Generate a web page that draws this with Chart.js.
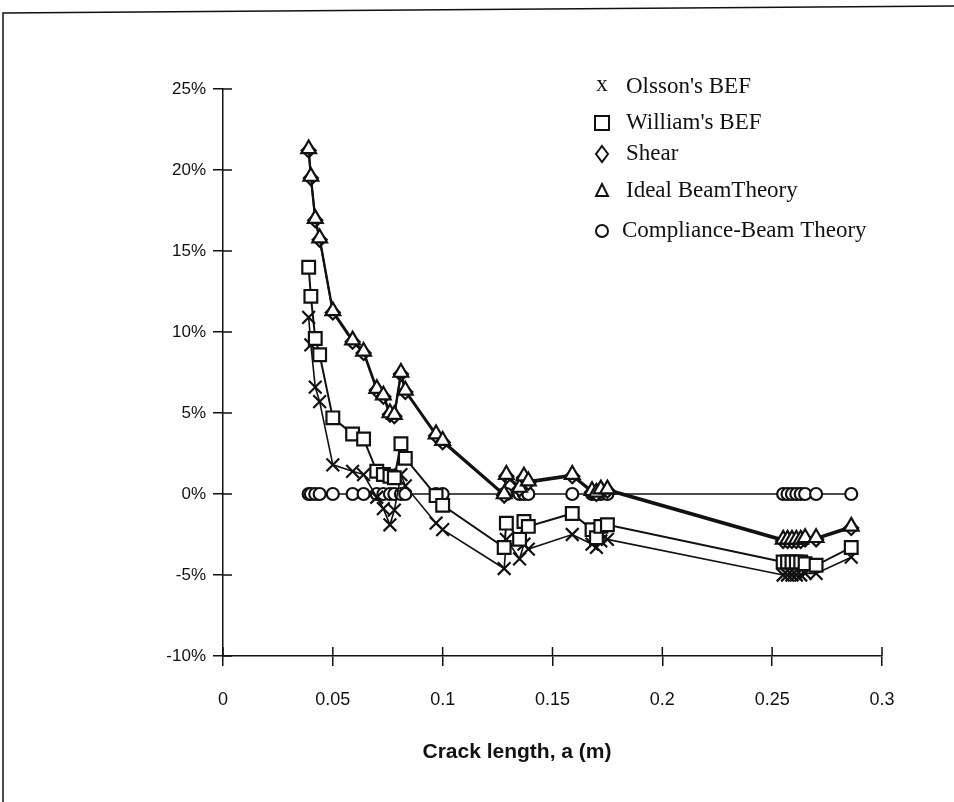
<!DOCTYPE html>
<html>
<head>
<meta charset="utf-8">
<script src="https://cdn.jsdelivr.net/npm/chart.js@4.4.0/dist/chart.umd.min.js"></script>
<style>
    html, body { margin: 0; padding: 0; background: #fff; }
    #wrap { position: relative; width: 954px; height: 802px; }
</style>
</head>
<body>
<div id="wrap"><canvas id="crackChart" width="954" height="802"></canvas></div>
<script>
// Data (crack length in m, error in %)
const crackLength = [0.039, 0.040, 0.042, 0.044, 0.050, 0.059, 0.064, 0.070, 0.073, 0.076, 0.078,
    0.081, 0.083, 0.097, 0.100, 0.128, 0.129, 0.135, 0.137, 0.139, 0.159, 0.168, 0.170, 0.172, 0.175,
    0.255, 0.257, 0.259, 0.261, 0.263, 0.265, 0.270, 0.286];

const olssonBEF = [10.9, 9.2, 6.6, 5.7, 1.8, 1.4, 1.2, -0.2, -0.9, -1.9, -1.0,
    1.2, 0.5, -1.8, -2.2, -4.6, -2.8, -4.0, -3.1, -3.4, -2.5, -3.1, -3.3, -2.9, -2.8,
    -5.0, -5.0, -5.0, -5.0, -5.0, -4.9, -4.9, -3.9];

const williamsBEF = [14.0, 12.2, 9.6, 8.6, 4.7, 3.7, 3.4, 1.4, 1.2, 1.1, 1.0,
    3.1, 2.2, -0.1, -0.7, -3.3, -1.8, -2.8, -1.7, -2.0, -1.2, -2.2, -2.7, -2.0, -1.9,
    -4.2, -4.2, -4.2, -4.2, -4.2, -4.3, -4.4, -3.3];

const shear = [21.2, 19.5, 16.9, 15.7, 11.2, 9.4, 8.7, 6.4, 6.0, 4.9, 4.8,
    7.4, 6.3, 3.6, 3.2, -0.1, 1.1, 0.3, 1.0, 0.7, 1.1, 0.1, 0.0, 0.2, 0.2,
    -2.9, -2.9, -2.9, -2.9, -2.9, -2.8, -2.8, -2.1];

const idealBeam = [21.3, 19.6, 17.0, 15.8, 11.3, 9.5, 8.8, 6.5, 6.1, 5.0, 4.9,
    7.5, 6.4, 3.7, 3.3, 0.0, 1.2, 0.4, 1.1, 0.8, 1.2, 0.2, 0.1, 0.3, 0.3,
    -2.8, -2.8, -2.8, -2.8, -2.8, -2.7, -2.7, -2.0];

const complianceBeam = [0, 0, 0, 0, 0, 0, 0, 0, 0, 0, 0,
    0, 0, 0, 0, 0, 0, 0, 0, 0, 0, 0, 0, 0, 0,
    0, 0, 0, 0, 0, 0, 0, 0];

const seriesNames = ["Olsson's BEF", "William's BEF", 'Shear', 'Ideal BeamTheory', 'Compliance-Beam Theory'];
const xAxisTitle = 'Crack length, a (m)';

const xTickValues = [0, 0.05, 0.1, 0.15, 0.2, 0.25, 0.3];
const xTickLabels = ['0', '0.05', '0.1', '0.15', '0.2', '0.25', '0.3'];
const yTickValues = [-10, -5, 0, 5, 10, 15, 20, 25];
const yTickLabels = ['-10%', '-5%', '0%', '5%', '10%', '15%', '20%', '25%'];

const ink = '#111';
const sansFont = '"Liberation Sans", Arial, sans-serif';

function toPoints(values) {
    return crackLength.map((a, i) => ({ x: a, y: values[i] }));
}

function makeSeries(label, values, style, radius, width) {
    return {
        label: label,
        data: toPoints(values),
        showLine: true,
        borderColor: ink,
        backgroundColor: '#fff',
        borderWidth: width,
        pointStyle: style,
        pointRadius: radius,
        pointBorderWidth: 2.2,
        pointBackgroundColor: '#fff',
        pointBorderColor: ink,
        tension: 0
    };
}

// Frame round the figure, inner half of the tick marks, axis title
const framePlugin = {
    id: 'frame',
    beforeDraw(chart) {
        const ctx = chart.ctx;
        ctx.save();
        ctx.fillStyle = '#fff';
        ctx.fillRect(0, 0, chart.width, chart.height);
        ctx.strokeStyle = ink;
        ctx.lineWidth = 1.5;
        ctx.beginPath();
        ctx.moveTo(3, 802);
        ctx.lineTo(3, 13);
        ctx.lineTo(954, 6);
        ctx.stroke();
        ctx.restore();
    },
    afterDraw(chart) {
        const ctx = chart.ctx;
        const area = chart.chartArea;
        const xs = chart.scales.x;
        const ys = chart.scales.y;
        ctx.save();
        ctx.strokeStyle = ink;
        ctx.lineWidth = 1.5;
        ctx.beginPath();
        yTickValues.forEach(v => {
            const py = ys.getPixelForValue(v);
            ctx.moveTo(area.left, py);
            ctx.lineTo(area.left + 9, py);
        });
        xTickValues.forEach(v => {
            const px = xs.getPixelForValue(v);
            ctx.moveTo(px, area.bottom);
            ctx.lineTo(px, area.bottom - 9);
        });
        ctx.stroke();

        // axis title sits a little left of the axis middle in the original
        ctx.fillStyle = ink;
        ctx.font = 'bold 21px ' + sansFont;
        ctx.textAlign = 'center';
        ctx.textBaseline = 'middle';
        ctx.fillText(xAxisTitle, 517, 752);
        ctx.restore();
    }
};

// Legend drawn in the upper right, like the original
const legendPlugin = {
    id: 'sideLegend',
    afterDraw(chart) {
        const ctx = chart.ctx;
        const rows = [87, 123, 154, 191, 231];
        const symX = 602;
        ctx.save();
        ctx.fillStyle = ink;
        ctx.strokeStyle = ink;
        ctx.lineWidth = 2;
        ctx.textBaseline = 'middle';
        ctx.font = '23px "Liberation Serif", "Times New Roman", serif';

        // x
        ctx.textAlign = 'center';
        ctx.fillText('x', symX, rows[0] - 2);
        // square
        ctx.strokeRect(symX - 7, rows[1] - 7, 14, 14);
        // diamond
        ctx.beginPath();
        ctx.moveTo(symX, rows[2] - 8);
        ctx.lineTo(symX + 6, rows[2]);
        ctx.lineTo(symX, rows[2] + 8);
        ctx.lineTo(symX - 6, rows[2]);
        ctx.closePath();
        ctx.stroke();
        // triangle
        ctx.beginPath();
        ctx.moveTo(symX, rows[3] - 7);
        ctx.lineTo(symX + 6, rows[3] + 5);
        ctx.lineTo(symX - 6, rows[3] + 5);
        ctx.closePath();
        ctx.stroke();
        // circle
        ctx.beginPath();
        ctx.arc(symX, rows[4], 6, 0, Math.PI * 2);
        ctx.stroke();

        ctx.textAlign = 'left';
        seriesNames.forEach((name, i) => {
            ctx.fillText(name, i === 4 ? 622 : 626, rows[i]);
        });
        ctx.restore();
    }
};

new Chart(document.getElementById('crackChart'), {
    type: 'scatter',
    data: {
        datasets: [
            makeSeries(seriesNames[3], idealBeam, 'triangle', 8.5, 2.2),
            makeSeries(seriesNames[2], shear, 'rectRot', 7, 2),
            makeSeries(seriesNames[1], williamsBEF, 'rect', 9, 2),
            makeSeries(seriesNames[0], olssonBEF, 'crossRot', 9, 1.6),
            makeSeries(seriesNames[4], complianceBeam, 'circle', 6, 1.6)
        ]
    },
    options: {
        responsive: false,
        animation: false,
        devicePixelRatio: 1,
        layout: {
            padding: { top: 89, right: 72, left: 0, bottom: 0 }
        },
        plugins: {
            legend: { display: false },
            tooltip: { enabled: false },
            title: { display: false }
        },
        scales: {
            x: {
                type: 'linear',
                min: 0,
                max: 0.3,
                afterBuildTicks: scale => {
                    scale.ticks = xTickValues.map(v => ({ value: v }));
                },
                afterFit: scale => {
                    scale.height = 146;
                },
                ticks: {
                    color: ink,
                    padding: 23,
                    font: { family: sansFont, size: 18 },
                    callback: (value, index) => xTickLabels[index]
                },
                grid: {
                    display: true,
                    drawOnChartArea: false,
                    drawTicks: true,
                    tickLength: 10,
                    color: ink,
                    lineWidth: 1.5
                },
                border: { display: true, color: ink, width: 1.5 }
            },
            y: {
                type: 'linear',
                min: -10,
                max: 25,
                afterBuildTicks: scale => {
                    scale.ticks = yTickValues.map(v => ({ value: v }));
                },
                afterFit: scale => {
                    scale.width = 223;
                },
                ticks: {
                    color: ink,
                    padding: 7,
                    font: { family: sansFont, size: 17 },
                    callback: (value, index) => yTickLabels[index]
                },
                grid: {
                    display: true,
                    drawOnChartArea: false,
                    drawTicks: true,
                    tickLength: 10,
                    color: ink,
                    lineWidth: 1.5
                },
                border: { display: true, color: ink, width: 1.5 }
            }
        }
    },
    plugins: [framePlugin, legendPlugin]
});
</script>
</body>
</html>
